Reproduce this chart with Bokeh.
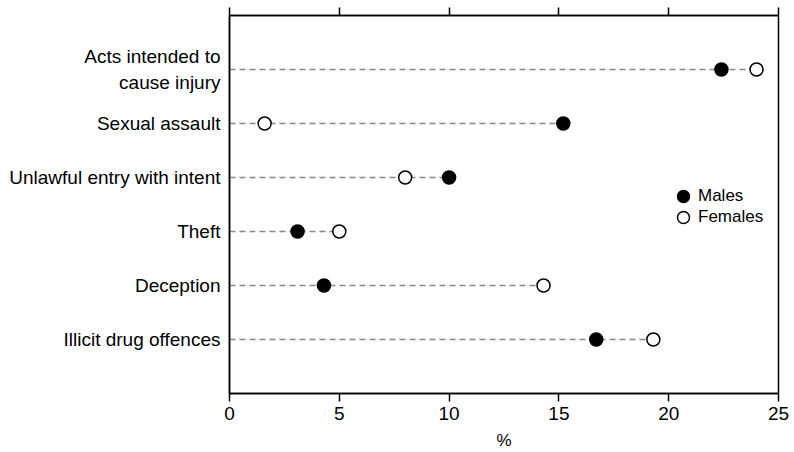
from bokeh.plotting import figure
from bokeh.models import Range1d, FixedTicker, LinearAxis, Legend, LegendItem, ColumnDataSource
from bokeh.embed import file_html
from bokeh.resources import INLINE

categories = ["Acts intended to\ncause injury", "Sexual assault", "Unlawful entry with intent",
              "Theft", "Deception", "Illicit drug offences"]
males = [22.4, 15.2, 10.0, 3.1, 4.3, 16.7]
females = [24.0, 1.6, 8.0, 5.0, 14.3, 19.3]
x_ticks = [0, 5, 10, 15, 20, 25]

FONT = "Liberation Sans"
pos = list(range(1, len(categories) + 1))
src = ColumnDataSource(dict(y=pos, m=males, f=females,
                            x0=[0] * len(pos),
                            x1=[max(a, b) for a, b in zip(males, females)]))

p = figure(width=792, height=452, output_backend="svg", toolbar_location=None,
           x_range=Range1d(0, 25), y_range=Range1d(7, 0),
           x_axis_location=None, y_axis_location=None,
           min_border_left=229, min_border_top=15, min_border_bottom=57, min_border_right=14)
p.outline_line_color = "black"
p.outline_line_width = 1.5
p.xgrid.visible = False
p.ygrid.visible = False

# bottom axis
xb = LinearAxis(ticker=FixedTicker(ticks=x_ticks), axis_label="%")
xb.major_tick_out = 8
xb.major_tick_in = 0
xb.minor_tick_out = 0
xb.minor_tick_in = 0
xb.axis_line_width = 1.5
xb.major_tick_line_width = 1.5
xb.major_label_text_font = FONT
xb.major_label_text_font_size = "19px"
xb.major_label_text_line_height = 1.0
xb.major_label_text_color = "black"
xb.major_label_standoff = 5
xb.axis_label_text_font = FONT
xb.axis_label_text_font_size = "17px"
xb.axis_label_text_line_height = 1.0
xb.axis_label_text_font_style = "normal"
xb.axis_label_text_color = "black"
xb.axis_label_standoff = 8
p.add_layout(xb, "below")

# top axis (ticks only)
xt = LinearAxis(ticker=FixedTicker(ticks=x_ticks),
                major_label_overrides={t: "" for t in x_ticks})
xt.major_tick_out = 8
xt.major_tick_in = 0
xt.minor_tick_out = 0
xt.minor_tick_in = 0
xt.axis_line_width = 1.5
xt.major_tick_line_width = 1.5
xt.major_label_standoff = 0
p.add_layout(xt, "above")

# left axis
yl = LinearAxis(ticker=FixedTicker(ticks=pos),
                major_label_overrides={i + 1: c for i, c in enumerate(categories)})
yl.major_tick_out = 0
yl.major_tick_in = 0
yl.minor_tick_out = 0
yl.minor_tick_in = 0
yl.axis_line_width = 1.5
yl.major_label_text_font = FONT
yl.major_label_text_font_size = "19px"
yl.major_label_text_color = "black"
yl.major_label_standoff = 9
yl.major_label_text_align = "right"
p.add_layout(yl, "left")

p.segment(x0="x0", y0="y", x1="x1", y1="y", source=src,
          line_color="#888888", line_width=1.5, line_dash="6 4")
rm = p.scatter(x="m", y="y", source=src, size=13, marker="circle",
               fill_color="black", line_color="black", line_width=1.5)
rf = p.scatter(x="f", y="y", source=src, size=13, marker="circle",
               fill_color="white", line_color="black", line_width=1.5)


def make_legend(label, renderer, loc):
    lg = Legend(items=[LegendItem(label=label, renderers=[renderer])], location=loc)
    lg.border_line_color = None
    lg.background_fill_alpha = 0
    lg.padding = 0
    lg.margin = 0
    lg.spacing = 0
    lg.glyph_width = 30
    lg.glyph_height = 30
    lg.label_standoff = 0
    lg.label_text_font = FONT
    lg.label_text_font_size = "17px"
    lg.label_text_color = "black"
    lg.label_height = 30
    return lg


p.add_layout(make_legend("Males", rm, (439, 182)))
p.add_layout(make_legend("Females", rf, (439, 161)))

open("out.html", "w").write(file_html(p, INLINE))
